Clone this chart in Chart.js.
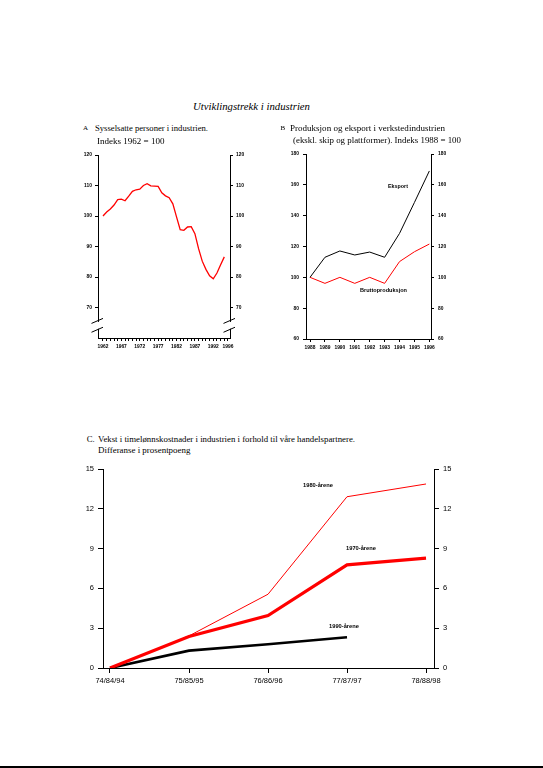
<!DOCTYPE html>
<html><head><meta charset="utf-8">
<script src="https://cdn.jsdelivr.net/npm/chart.js@4.4.0/dist/chart.umd.min.js"></script>
<style>
html,body{margin:0;padding:0;background:#fff;}
body{width:543px;height:768px;position:relative;overflow:hidden;font-family:"Liberation Serif","Times New Roman",serif;color:#000;}
.t{position:absolute;white-space:nowrap;line-height:1;transform-origin:0 50%;}
.s{font-family:"Liberation Sans",Arial,sans-serif;font-weight:bold;}
canvas{position:absolute;}
#bottomline{position:absolute;left:0;top:766px;width:543px;height:2px;background:#000;}
</style></head>
<body>
<canvas id="cA" width="215" height="222" style="left:58px;top:140px;width:215px;height:222px"></canvas>
<canvas id="cB" width="210" height="222" style="left:265px;top:140px;width:210px;height:222px"></canvas>
<canvas id="cC" width="420" height="235" style="left:55px;top:458px;width:420px;height:235px"></canvas>
<div id="bottomline"></div>
<script>
// ---- DATA ----
const yearsA = [1962,1963,1964,1965,1966,1967,1968,1969,1970,1971,1972,1973,1974,1975,1976,1977,1978,1979,1980,1981,1982,1983,1984,1985,1986,1987,1988,1989,1990,1991,1992,1993,1994,1995];
const employmentA = [100.0,101.3,102.3,103.6,105.4,105.5,105.0,106.5,108.1,108.6,108.8,110.0,110.6,109.9,109.8,109.7,107.6,106.6,106.0,104.0,99.7,95.5,95.3,96.4,96.5,94.2,89.3,85.2,82.5,80.4,79.4,81.3,84.0,86.6];
const tickYearsA = [1962,1967,1972,1977,1982,1987,1992,1996];

const yearsB = [1988,1989,1990,1991,1992,1993,1994,1995,1996];
const exportB = [100,113.0,117.1,114.5,116.4,113.0,128.5,148.6,169.0];
const grossB = [100,96.1,100,96.1,100,96.1,110.2,116.6,121.6];

const periodsC = ['74/84/94','75/85/95','76/86/96','77/87/97','78/88/98'];
const c1980 = [0,2.42,5.56,12.91,13.87];
const c1970 = [0,2.37,3.95,7.78,8.28];
const c1990 = [0,1.31,1.79,2.32];

// ---- TEXTS ----
const texts = [
  {t:'Utviklingstrekk i industrien', x:193, cy:107, f:10.7, w:117, it:true},
  {t:'A', x:83, cy:128.5, f:7},
  {t:'Sysselsatte personer i industrien.', x:95, cy:128.3, f:8.7, w:113},
  {t:'Indeks 1962 = 100', x:96.5, cy:141.7, f:8.7, w:67.5},
  {t:'B', x:280.5, cy:128.5, f:7},
  {t:'Produksjon og eksport  i verkstedindustrien', x:290, cy:128.3, f:8.7, w:155},
  {t:'(ekskl. skip og plattformer). Indeks 1988 = 100', x:293.3, cy:141, f:8.7, w:168},
  {t:'C.', x:86.7, cy:440, f:8.7},
  {t:'Vekst i timelønnskostnader i industrien i forhold til våre handelspartnere.', x:98.3, cy:440, f:8.7, w:257},
  {t:'Differanse i prosentpoeng', x:98.3, cy:451, f:8.7, w:92.4},
  {t:'Eksport', x:388, cy:187, f:5, w:20, sans:true},
  {t:'Bruttoproduksjon', x:360, cy:291, f:5, w:47, sans:true},
  {t:'1980-årene', x:302.7, cy:485.7, f:5.5, w:30, sans:true},
  {t:'1970-årene', x:346, cy:549, f:5.5, w:30, sans:true},
  {t:'1990-årene', x:329, cy:626.7, f:5.5, w:30, sans:true}
];
texts.forEach(o => {
  const d = document.createElement('div');
  d.className = 't' + (o.sans ? ' s' : '');
  d.textContent = o.t;
  d.style.left = o.x + 'px';
  d.style.fontSize = o.f + 'px';
  d.style.top = (o.cy - o.f * 0.55) + 'px';
  if (o.it) d.style.fontStyle = 'italic';
  document.body.appendChild(d);
  if (o.w) {
    const w = d.getBoundingClientRect().width;
    if (w > 0) d.style.transform = 'scaleX(' + (o.w / w) + ')';
  }
});

// ---- CHART HELPERS ----
const SANS = '"Liberation Sans", Arial, sans-serif';
function yAxis(pos, min, max, step, hidden, font, tickLen, pad, width) {
  return {
    type: 'linear', position: pos, min: min, max: max,
    ticks: {stepSize: step, color: '#000', font: font, padding: pad,
      callback: v => hidden.includes(v) ? '' : String(v)},
    grid: {drawOnChartArea: false, drawTicks: true, tickLength: tickLen, lineWidth: 1,
      color: ctx => (ctx.tick && hidden.includes(ctx.tick.value)) ? 'rgba(0,0,0,0)' : '#000'},
    border: {display: true, color: '#000', width: 1},
    afterFit: s => { s.width = width; s.paddingTop = 0; s.paddingBottom = 0; }
  };
}
function xAxis(min, max, vals, labelFn, font, tickLen, pad, height) {
  return {
    type: 'linear', position: 'bottom', min: min, max: max,
    afterBuildTicks: s => { s.ticks = vals.map(v => ({value: v})); },
    ticks: {autoSkip: false, maxRotation: 0, minRotation: 0, color: '#000', font: font, padding: pad,
      callback: v => labelFn(v)},
    grid: {drawOnChartArea: false, drawTicks: true, tickLength: tickLen, color: '#000', lineWidth: 1},
    border: {display: true, color: '#000', width: 1},
    afterFit: s => { s.height = height; s.paddingLeft = 0; s.paddingRight = 0; }
  };
}
const pts = (xs, ys) => ys.map((y, i) => ({x: xs[i], y: y}));
const base = {responsive: false, animation: false, devicePixelRatio: 1,
  plugins: {legend: {display: false}, tooltip: {enabled: false}, title: {display: false}},
  elements: {point: {radius: 0}, line: {tension: 0}}};

// ---- CHART A ----
const breakPlugin = {
  id: 'axisBreak',
  afterDraw(chart) {
    const ctx = chart.ctx, ys = chart.scales.y;
    const y1 = ys.getPixelForValue(65.6), y2 = ys.getPixelForValue(62.7);
    [chart.chartArea.left, chart.chartArea.right].forEach(x => {
      ctx.save();
      ctx.fillStyle = '#fff';
      ctx.fillRect(x - 2, y1 + 1, 4, y2 - y1 - 2);
      ctx.strokeStyle = '#000'; ctx.lineWidth = 1;
      [y1, y2].forEach(y => { ctx.beginPath(); ctx.moveTo(x - 6.5, y + 2.5); ctx.lineTo(x + 5, y - 2.5); ctx.stroke(); });
      ctx.restore();
    });
  }
};
const smallFont = {family: SANS, size: 4.9, weight: 'bold'};
const yearsTicksA = []; for (let i = 0; i < yearsA.length; i++) yearsTicksA.push(yearsA[i]); yearsTicksA.push(1996);
new Chart(document.getElementById('cA'), {
  type: 'line',
  data: {datasets: [{data: pts(yearsA, employmentA), borderColor: '#ff0000', borderWidth: 1.3, fill: false}]},
  options: Object.assign({}, base, {
    layout: {padding: {left: 18, right: 21, top: 15, bottom: 8}},
    scales: {
      x: xAxis(1960.64, 1996.55, yearsTicksA, v => tickYearsA.includes(v) ? String(v) : '', smallFont, 3, 3, 16),
      y: yAxis('left', 60, 120, 10, [60], smallFont, 3, 3, 22),
      y2: yAxis('right', 60, 120, 10, [60], smallFont, 3, 3, 22)
    }
  }),
  plugins: [breakPlugin]
});

// ---- CHART B ----
new Chart(document.getElementById('cB'), {
  type: 'line',
  data: {datasets: [
    {data: pts(yearsB, exportB), borderColor: '#000', borderWidth: 1, fill: false},
    {data: pts(yearsB, grossB), borderColor: '#ff0000', borderWidth: 1, fill: false}
  ]},
  options: Object.assign({}, base, {
    layout: {padding: {left: 19, right: 22, top: 14, bottom: 7}},
    scales: {
      x: xAxis(1987.73, 1996.11, yearsB, v => String(v), smallFont, 3, 2.5, 16),
      y: yAxis('left', 60, 180, 20, [], smallFont, 3, 4, 22),
      y2: yAxis('right', 60, 180, 20, [], smallFont, 3, 4, 22)
    }
  })
});

// ---- CHART C ----
const fontC = {family: SANS, size: 7.5};
const idxC = periodsC.map((p, i) => i);
new Chart(document.getElementById('cC'), {
  type: 'line',
  data: {datasets: [
    {data: pts(idxC, c1980), borderColor: '#ff0000', borderWidth: 1, fill: false},
    {data: pts(idxC, c1970), borderColor: '#ff0000', borderWidth: 3.2, fill: false},
    {data: pts(idxC, c1990), borderColor: '#000', borderWidth: 2.6, fill: false}
  ]},
  options: Object.assign({}, base, {
    layout: {padding: {left: 20, right: 13, top: 11, bottom: 5}},
    scales: {
      x: xAxis(-0.0886, 4.101, idxC, v => periodsC[v] || '', fontC, 5, 3, 20),
      y: yAxis('left', 0, 15, 3, [], fontC, 5, 4, 28),
      y2: yAxis('right', 0, 15, 3, [], fontC, 5, 4, 28)
    }
  })
});
</script>
</body></html>
